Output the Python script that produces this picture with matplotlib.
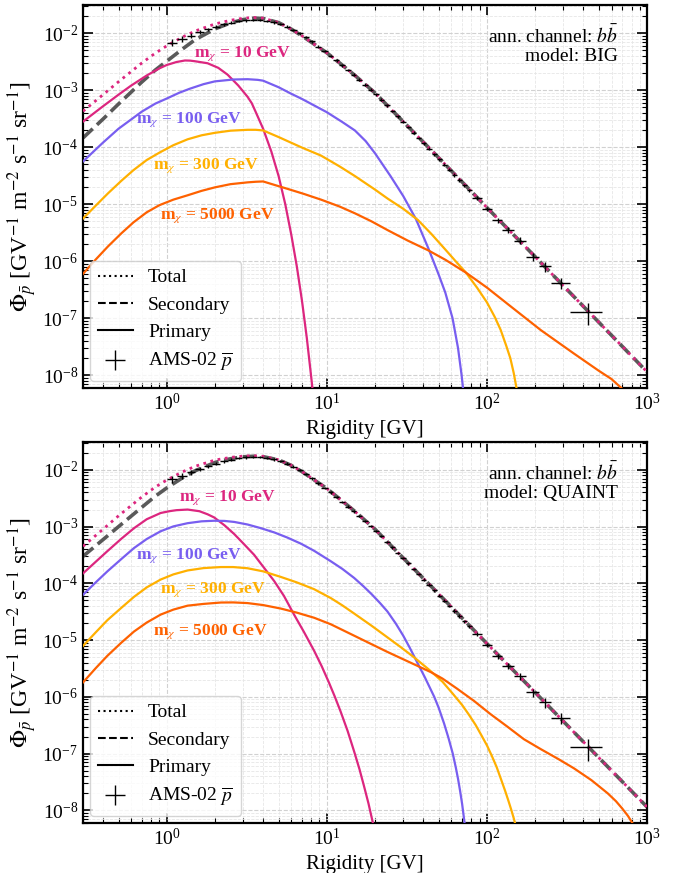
import matplotlib
matplotlib.use("Agg")
import matplotlib.pyplot as plt
from matplotlib.lines import Line2D
import numpy as np

# ---------------- data ----------------
# AMS-02 antiproton flux: rigidity bins (GV) and flux values
ams_lo = [1.00, 1.16, 1.33, 1.51, 1.71, 1.92, 2.15, 2.40, 2.67, 2.97, 3.29, 3.64, 4.02, 4.43, 4.88,
          5.37, 5.90, 6.47, 7.09, 7.76, 8.48, 9.26, 10.1, 11.0, 12.0, 13.0, 14.1, 15.3, 16.6, 18.0,
          19.5, 21.1, 22.8, 24.7, 26.7, 28.8, 31.1, 33.5, 36.1, 38.9, 41.9, 45.1, 48.5, 52.2, 56.1,
          60.3, 64.8, 69.7, 74.9, 80.5, 93.0, 108, 125, 147, 175, 211, 250, 330]
ams_hi = [1.16, 1.33, 1.51, 1.71, 1.92, 2.15, 2.40, 2.67, 2.97, 3.29, 3.64, 4.02, 4.43, 4.88, 5.37,
          5.90, 6.47, 7.09, 7.76, 8.48, 9.26, 10.1, 11.0, 12.0, 13.0, 14.1, 15.3, 16.6, 18.0, 19.5,
          21.1, 22.8, 24.7, 26.7, 28.8, 31.1, 33.5, 36.1, 38.9, 41.9, 45.1, 48.5, 52.2, 56.1, 60.3,
          64.8, 69.7, 74.9, 80.5, 93.0, 108, 125, 147, 175, 211, 250, 330, 525]
ams_flux = [6.8e-3, 7.9e-3, 9.0e-3, 1.03e-2, 1.16e-2, 1.29e-2, 1.41e-2, 1.52e-2, 1.61e-2, 1.67e-2,
            1.70e-2, 1.69e-2, 1.63e-2, 1.54e-2, 1.43e-2, 1.29e-2, 1.14e-2, 9.9e-3, 8.5e-3, 7.1e-3,
            5.8e-3, 4.8e-3, 4.0e-3, 3.3e-3, 2.72e-3, 2.26e-3, 1.86e-3, 1.53e-3, 1.25e-3, 1.02e-3,
            8.4e-4, 6.8e-4, 5.4e-4, 4.3e-4, 3.45e-4, 2.8e-4, 2.25e-4, 1.8e-4, 1.45e-4, 1.17e-4,
            9.4e-5, 7.5e-5, 6.1e-5, 4.95e-5, 4.0e-5, 3.25e-5, 2.65e-5, 2.15e-5, 1.75e-5, 1.27e-5,
            8.2e-6, 5.2e-6, 3.5e-6, 2.3e-6, 1.2e-6, 8.1e-7, 4.2e-7, 1.3e-7]
ams_relerr = [0.14, 0.11, 0.09, 0.08, 0.07, 0.06, 0.06, 0.05, 0.05, 0.05, 0.05, 0.05, 0.05, 0.05, 0.05,
              0.05, 0.05, 0.05, 0.05, 0.05, 0.05, 0.05, 0.05, 0.05, 0.05, 0.05, 0.05, 0.05, 0.05, 0.05,
              0.05, 0.05, 0.05, 0.05, 0.05, 0.05, 0.05, 0.05, 0.05, 0.06, 0.06, 0.06, 0.06, 0.06, 0.06,
              0.07, 0.07, 0.07, 0.07, 0.08, 0.09, 0.10, 0.12, 0.14, 0.17, 0.20, 0.22, 0.42]

# grid shared by the secondary and total curves
R_grid = [0.3, 0.4, 0.5, 0.7, 0.85, 1.0, 1.25, 1.5, 2.0, 2.5, 3.0, 3.5, 4.0, 5.0, 6.0, 7.0, 8.0,
          10, 12, 15, 20, 30, 50, 100, 200, 500, 1000]

# ---- model BIG (top panel) ----
big_secondary = [1.45e-4, 3.1e-4, 5.7e-4, 1.39e-3, 2.25e-3, 3.2e-3, 5.2e-3, 7.6e-3, 1.18e-2, 1.5e-2,
                 1.72e-2, 1.82e-2, 1.8e-2, 1.52e-2, 1.17e-2, 8.9e-3, 6.9e-3, 4.5e-3, 3.0e-3, 1.8e-3,
                 8.9e-4, 2.8e-4, 6.5e-5, 8.7e-6, 1.2e-6, 8.5e-8, 1.15e-8]
big_total = [4.25e-4, 8.3e-4, 1.4e-3, 2.99e-3, 4.45e-3, 5.95e-3, 8.45e-3, 1.08e-2, 1.44e-2, 1.67e-2,
             1.815e-2, 1.87e-2, 1.82e-2, 1.523e-2, 1.17e-2, 8.9e-3, 6.9e-3, 4.5e-3, 3.0e-3, 1.8e-3,
             8.9e-4, 2.8e-4, 6.5e-5, 8.7e-6, 1.2e-6, 8.5e-8, 1.15e-8]
big_R10 = [0.3, 0.4, 0.5, 0.6, 0.75, 0.9, 1.0, 1.15, 1.3, 1.4, 1.5, 1.8, 2.1, 2.4, 2.8, 3.2, 3.4,
           3.6, 4.0, 4.5, 5.0, 5.5, 6.0, 6.5, 7.0, 7.5, 8.0, 8.3]
big_P10 = [2.8e-4, 5.2e-4, 8.3e-4, 1.2e-3, 1.8e-3, 2.4e-3, 2.75e-3, 3.1e-3, 3.3e-3, 3.28e-3, 3.2e-3,
           2.95e-3, 2.45e-3, 1.86e-3, 1.2e-3, 7.6e-4, 5.86e-4, 4.1e-4, 2.1e-4, 8.4e-5, 3.1e-5,
           1.0e-5, 2.9e-6, 8.0e-7, 2.0e-7, 4.5e-8, 9e-9, 3.5e-9]
big_R100 = [0.3, 0.4, 0.5, 0.7, 0.85, 1.0, 1.2, 1.4, 1.7, 2.0, 2.6, 3.2, 3.7, 4.0, 4.5, 5.0, 6.0,
            7.0, 10, 12.5, 15, 17.5, 20, 25, 30, 36, 43, 50, 55, 61, 66, 69.5, 72]
big_P100 = [5.6e-5, 1.2e-4, 2.1e-4, 4.2e-4, 5.8e-4, 7.1e-4, 9.0e-4, 1.06e-3, 1.27e-3, 1.42e-3,
            1.53e-3, 1.55e-3, 1.51e-3, 1.46e-3, 1.27e-3, 1.12e-3, 8.6e-4, 6.98e-4, 4.09e-4, 2.75e-4,
            1.95e-4, 1.27e-4, 7.8e-5, 3.1e-5, 1.39e-5, 5.5e-6, 1.7e-6, 5.8e-7, 2.8e-7, 1.0e-7,
            3.0e-8, 1.0e-8, 4e-9]
big_R300 = [0.3, 0.36, 0.43, 0.52, 0.62, 0.75, 0.9, 1.1, 1.35, 1.65, 2.0, 2.5, 3.2, 3.6, 4.0, 5.0,
            5.7, 7.0, 9.2, 12, 15, 20, 24, 30, 37, 45, 55, 65, 74, 87, 100, 112, 122, 132, 140,
            147, 153]
big_P300 = [5.6e-6, 9.4e-6, 1.55e-5, 2.56e-5, 3.95e-5, 5.94e-5, 8.0e-5, 1.08e-4, 1.37e-4, 1.61e-4,
            1.78e-4, 1.94e-4, 2.01e-4, 2.01e-4, 1.96e-4, 1.5e-4, 1.27e-4, 9.8e-5, 7.1e-5, 4.6e-5,
            3.1e-5, 1.8e-5, 1.25e-5, 8.3e-6, 5.3e-6, 3.0e-6, 1.6e-6, 9.4e-7, 6.3e-7, 3.4e-7,
            1.9e-7, 1.05e-7, 6.2e-8, 3.3e-8, 2.0e-8, 1.1e-8, 6e-9]
big_R5000 = [0.3, 0.36, 0.43, 0.52, 0.62, 0.75, 0.9, 1.1, 1.35, 1.65, 2.0, 2.5, 3.2, 3.6, 4.0, 4.8,
             5.7, 7.2, 9.2, 12, 15, 19, 24, 32, 43, 55, 74, 100, 134, 217, 350, 500, 600, 700]
big_P5000 = [6.0e-7, 1.07e-6, 1.82e-6, 3.07e-6, 4.8e-6, 7.2e-6, 9.6e-6, 1.2e-5, 1.43e-5, 1.71e-5,
             1.97e-5, 2.24e-5, 2.41e-5, 2.47e-5, 2.5e-5, 2.14e-5, 1.85e-5, 1.51e-5, 1.2e-5, 9.1e-6,
             6.9e-6, 5.0e-6, 3.5e-6, 2.3e-6, 1.55e-6, 1.06e-6, 6.3e-7, 3.45e-7, 1.8e-7, 6.2e-8,
             2.4e-8, 1.2e-8, 8.6e-9, 5.8e-9]

# ---- model QUAINT (bottom panel) ----
quaint_secondary = [3.0e-4, 5.9e-4, 1.0e-3, 2.2e-3, 3.45e-3, 4.8e-3, 7.2e-3, 9.6e-3, 1.35e-2, 1.57e-2,
                    1.7e-2, 1.74e-2, 1.71e-2, 1.5e-2, 1.2e-2, 9.3e-3, 7.2e-3, 4.7e-3, 3.1e-3, 1.85e-3,
                    9.0e-4, 2.8e-4, 6.5e-5, 8.7e-6, 1.2e-6, 8.5e-8, 1.15e-8]
quaint_total = [4.5e-4, 9.0e-4, 1.55e-3, 3.35e-3, 5.0e-3, 6.62e-3, 9.19e-3, 1.153e-2, 1.489e-2,
                1.658e-2, 1.752e-2, 1.773e-2, 1.73e-2, 1.508e-2, 1.203e-2, 9.32e-3, 7.21e-3, 4.7e-3,
                3.1e-3, 1.85e-3, 9.0e-4, 2.8e-4, 6.5e-5, 8.7e-6, 1.2e-6, 8.5e-8, 1.15e-8]
quaint_R10 = [0.3, 0.36, 0.426, 0.52, 0.625, 0.75, 0.917, 1.05, 1.15, 1.35, 1.6, 1.8, 1.98, 2.3,
              2.64, 3.0, 3.51, 4.69, 5.4, 6.25, 7.2, 8.33, 9.3, 10.3, 11.2, 12.2, 13.5, 14.8, 16,
              17, 18.2, 19.4]
quaint_P10 = [1.5e-4, 2.4e-4, 3.7e-4, 6.1e-4, 9.4e-4, 1.35e-3, 1.74e-3, 1.88e-3, 1.95e-3, 2.0e-3,
              1.87e-3, 1.65e-3, 1.45e-3, 1.05e-3, 7.4e-4, 5.1e-4, 3.2e-4, 1.1e-4, 6.0e-5, 2.8e-5,
              1.39e-5, 6.5e-6, 3.45e-6, 1.8e-6, 1.02e-6, 5.5e-7, 2.49e-7, 1.1e-7, 5.3e-8, 2.8e-8,
              1.33e-8, 6e-9]
quaint_R100 = [0.3, 0.36, 0.426, 0.52, 0.625, 0.75, 0.917, 1.1, 1.35, 1.65, 1.98, 2.3, 2.64, 3.2,
               3.87, 4.7, 5.68, 6.9, 8.33, 10.6, 12.5, 14.8, 17, 19, 21.5, 23.9, 27, 30, 33, 36,
               41, 46.9, 50, 54, 57.5, 61.2, 64, 66, 68, 70, 72.5]
quaint_P100 = [6.3e-5, 1.04e-4, 1.63e-4, 2.68e-4, 4.2e-4, 6.05e-4, 8.3e-4, 1.01e-3, 1.15e-3,
               1.24e-3, 1.27e-3, 1.26e-3, 1.21e-3, 1.09e-3, 9.4e-4, 7.9e-4, 6.4e-4, 5.0e-4, 3.75e-4,
               2.45e-4, 1.8e-4, 1.25e-4, 8.8e-5, 6.5e-5, 4.5e-5, 3.2e-5, 1.95e-5, 1.2e-5, 7.3e-6,
               4.5e-6, 2.2e-6, 1.0e-6, 6.4e-7, 3.4e-7, 1.9e-7, 1.0e-7, 5.6e-8, 3.6e-8, 2.2e-8,
               1.3e-8, 6e-9]
quaint_R300 = [0.3, 0.36, 0.426, 0.52, 0.625, 0.75, 0.917, 1.1, 1.35, 1.7, 2.18, 2.6, 3.19, 4.0,
               5.16, 6.5, 8.33, 10.6, 12.5, 14.8, 19, 23.9, 29, 35, 43, 52.8, 61, 70, 77, 85, 92,
               100, 107, 115, 122, 130, 136, 142, 147, 151]
quaint_P300 = [7.9e-6, 1.37e-5, 2.25e-5, 3.7e-5, 5.8e-5, 8.5e-5, 1.17e-4, 1.44e-4, 1.69e-4, 1.86e-4,
               1.94e-4, 1.94e-4, 1.85e-4, 1.63e-4, 1.3e-4, 1.04e-4, 7.9e-5, 5.5e-5, 4.1e-5, 2.95e-5,
               1.8e-5, 1.12e-5, 7.5e-6, 5.0e-6, 3.1e-6, 1.85e-6, 1.15e-6, 7.2e-7, 4.9e-7, 3.2e-7,
               2.15e-7, 1.4e-7, 9.3e-8, 5.8e-8, 3.65e-8, 2.2e-8, 1.5e-8, 1.02e-8, 7.3e-9, 5.5e-9]
quaint_R5000 = [0.3, 0.36, 0.426, 0.52, 0.625, 0.75, 0.917, 1.1, 1.35, 1.7, 2.18, 2.6, 3.19, 4.0,
                5.16, 6.5, 8.33, 10.6, 14.8, 19, 23.9, 30, 37, 45, 52.8, 65, 83, 105, 134, 170,
                217, 280, 350, 450, 568, 640, 700, 760, 810]
quaint_P5000 = [1.8e-6, 3.2e-6, 5.3e-6, 9.0e-6, 1.42e-5, 2.04e-5, 2.82e-5, 3.45e-5, 4.05e-5, 4.35e-5,
                4.6e-5, 4.62e-5, 4.5e-5, 4.15e-5, 3.6e-5, 3.05e-5, 2.48e-5, 1.9e-5, 1.2e-5, 8.5e-6,
                6.2e-6, 4.6e-6, 3.5e-6, 2.7e-6, 2.1e-6, 1.4e-6, 8.5e-7, 5.0e-7, 3.0e-7, 1.8e-7,
                1.2e-7, 8.0e-8, 5.5e-8, 3.4e-8, 2.0e-8, 1.45e-8, 1.08e-8, 8.0e-9, 6e-9]

mass_labels = [r"m$_{\chi}$ = 10 GeV", r"m$_{\chi}$ = 100 GeV", r"m$_{\chi}$ = 300 GeV",
               r"m$_{\chi}$ = 5000 GeV"]
mass_colors = ["#dc267f", "#785ef0", "#ffb000", "#fe6100"]
models = ["BIG", "QUAINT"]
x_major = [1, 10, 100, 1000]
y_major = [1e-8, 1e-7, 1e-6, 1e-5, 1e-4, 1e-3, 1e-2]

# ---------------- style ----------------
plt.rcParams.update({
    "font.family": ["Liberation Serif", "DejaVu Serif"],
    "mathtext.fontset": "stix",
    "font.size": 14,
    "axes.linewidth": 1.6,
    "xtick.direction": "in", "ytick.direction": "in",
    "xtick.top": True, "ytick.right": True,
    "xtick.major.size": 7, "ytick.major.size": 7,
    "xtick.minor.size": 3.5, "ytick.minor.size": 3.5,
    "xtick.major.width": 1.2, "ytick.major.width": 1.2,
    "xtick.minor.width": 0.8, "ytick.minor.width": 0.8,
    "xtick.labelsize": 14, "ytick.labelsize": 14,
    "legend.fontsize": 14,
})

fig = plt.figure(figsize=(6.81, 8.73), dpi=100)
ax_top = fig.add_axes([0.1219, 0.5556, 0.8282, 0.4387])
ax_bot = fig.add_axes([0.1219, 0.0573, 0.8282, 0.4364])

ams_lo_a = np.array(ams_lo)
ams_hi_a = np.array(ams_hi)
ams_c = 0.5 * (ams_lo_a + ams_hi_a)
ams_f = np.array(ams_flux)
ams_e = ams_f * np.array(ams_relerr)

panels = [
    (ax_top, big_secondary, big_total,
     [(big_R10, big_P10), (big_R100, big_P100), (big_R300, big_P300), (big_R5000, big_P5000)],
     [(0.282, 0.872), (0.188, 0.700), (0.218, 0.580), (0.238, 0.449)]),
    (ax_bot, quaint_secondary, quaint_total,
     [(quaint_R10, quaint_P10), (quaint_R100, quaint_P100), (quaint_R300, quaint_P300),
      (quaint_R5000, quaint_P5000)],
     [(0.257, 0.853), (0.188, 0.701), (0.230, 0.612), (0.225, 0.501)]),
]

for (ax, sec, tot, prims, lpos), model in zip(panels, models):
    ax.set_xscale("log")
    ax.set_yscale("log")
    ax.grid(True, which="major", ls="--", color="0.82", lw=0.8)
    ax.grid(True, which="minor", ls="--", color="0.9", lw=0.6)
    ax.set_axisbelow(True)

    ax.plot(R_grid, sec, ls="--", color="#595959", lw=2.6, zorder=2)
    for (R, P), col in zip(prims, mass_colors):
        ax.plot(R, P, color=col, lw=1.6, zorder=3)
    ax.plot(R_grid, tot, ls=":", color=mass_colors[0], lw=2.0, zorder=4)

    eb = ax.errorbar(ams_c, ams_f, xerr=[ams_c - ams_lo_a, ams_hi_a - ams_c], yerr=ams_e,
                     fmt="none", ecolor="black", elinewidth=1.0, capsize=0, zorder=5)

    for txt, col, (fx, fy) in zip(mass_labels, mass_colors, lpos):
        ax.text(fx, fy, txt, color=col, fontsize=12.5, fontweight="bold",
                ha="center", va="center", transform=ax.transAxes)

    ax.text(0.949, 0.948, "ann. channel: $b\\bar{b}$\nmodel: " + model, ha="right", va="top",
            transform=ax.transAxes, fontsize=14, linespacing=1.05)

    handles = [Line2D([], [], color="k", ls=":", lw=1.5),
               Line2D([], [], color="k", ls="--", lw=1.5),
               Line2D([], [], color="k", ls="-", lw=1.5),
               eb]
    ax.legend(handles, ["Total", "Secondary", "Primary", r"AMS-02 $\overline{p}$"],
              loc="lower left", handlelength=1.8, borderaxespad=0.35)

    ax.set_xticks(x_major)
    ax.set_yticks(y_major)
    ax.set_xlim(0.3, 1000)
    ax.set_ylim(6e-9, 3.1e-2)
    ax.tick_params(which="minor", labelbottom=False, labelleft=False)
    ax.set_xlabel("Rigidity [GV]", fontsize=15)
    ax.set_ylabel(r"$\Phi_{\bar{p}}$ [GV$^{-1}$ m$^{-2}$ s$^{-1}$ sr$^{-1}$]", fontsize=17,
                  labelpad=2)

fig.savefig("out.png", dpi=100)
